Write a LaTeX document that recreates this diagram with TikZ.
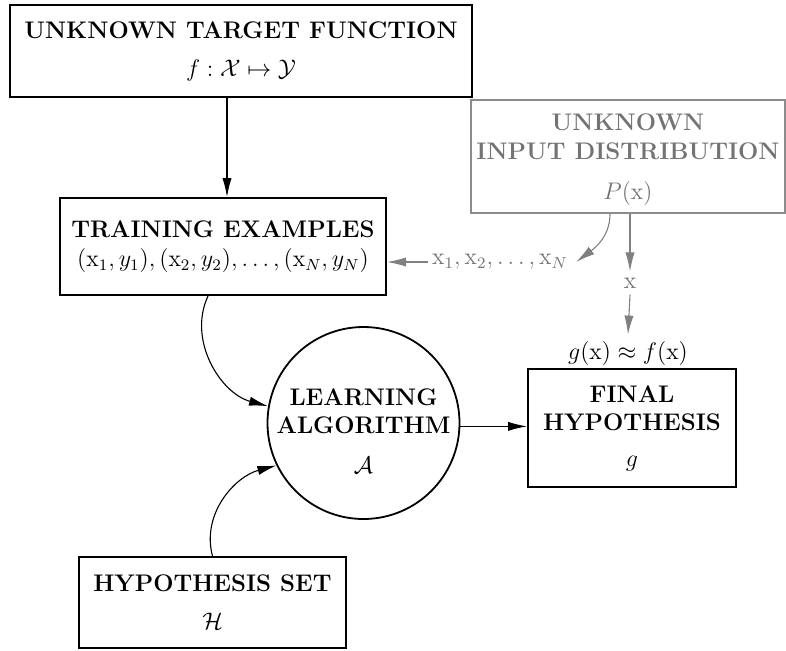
\documentclass[tikz,border=0pt]{standalone}
\usepackage{amsmath,amssymb}
\usetikzlibrary{arrows.meta}
\begin{document}
\begin{tikzpicture}[x=0.5pt,y=0.5pt,
  box/.style={draw, line width=1pt, rectangle, align=center, font=\large\bfseries, inner sep=0pt},
  graybox/.style={box, draw=black!45, text=black!55, line width=0.8pt},
  arr/.style={-{Latex[length=9.5pt,width=4.6pt]}, line width=0.55pt},
  garr/.style={arr, draw=black!50, color=black!50},
  lbl/.style={font=\large, inner sep=3pt}]
\useasboundingbox (0,0) rectangle (786,650);

\node[box, minimum width=231pt, minimum height=46pt] (target) at (241,599)
  {UNKNOWN TARGET FUNCTION\\[5pt] $f:\mathcal{X}\mapsto\mathcal{Y}$};
\node[box, minimum width=163pt, minimum height=48.5pt] (training) at (223,403.5)
  {TRAINING EXAMPLES\\[0.5pt] $(\mathrm{x}_1,y_1),(\mathrm{x}_2,y_2),\dots,(\mathrm{x}_N,y_N)$};
\node[graybox, minimum width=157pt, minimum height=56.5pt] (input) at (628,493.5)
  {\rule{0pt}{11pt}UNKNOWN\\[0.5pt]INPUT DISTRIBUTION\\[6pt]$P(\mathrm{x})$};
\node[circle, draw, line width=0.9pt, minimum size=96pt, align=center,
  font=\large\bfseries, inner sep=-6pt] (alg) at (363.5,227)
  {\rule{0pt}{16pt}LEARNING\\ALGORITHM\\[6pt]$\mathcal{A}$};
\node[box, minimum width=104pt, minimum height=59pt] (final) at (632,222)
  {FINAL\\HYPOTHESIS\\[4pt]$g$};
\node[box, minimum width=133.5pt, minimum height=45.5pt] (hypset) at (212.5,47.5)
  {HYPOTHESIS SET\\[5pt]$\mathcal{H}$};

\node[lbl, text=black!55, inner sep=2pt] (xs) at (500,388)
  {$\mathrm{x}_1,\mathrm{x}_2,\dots,\mathrm{x}_N$};
\node[lbl, text=black!55] (xl) at (630,367) {$\mathrm{x}$};
\node[lbl] (gf) at (628,297) {$g(\mathrm{x})\approx f(\mathrm{x})$};

\coordinate (ax) at (227,0);
\coordinate (c1) at (208,0);
\coordinate (c3) at (610,0);

\draw[arr] (ax |- target.south) -- (ax |- training.north);
\draw[arr] (c1 |- training.south) to[out=245, in=165] (alg.170);
\draw[arr] (hypset.north) to[out=105, in=195] (alg.206);
\draw[arr] (alg.-2.5) -- (alg.-2.5 -| final.west);

\draw[garr] (xs.west) -- (xs.west -| training.east);
\draw[garr] (c3 |- input.south) to[out=-90, in=37] ([xshift=2pt]xs.east);
\draw[garr] (xl |- input.south) -- (xl.north);
\draw[garr] (xl.south) -- (gf.north);
\end{tikzpicture}
\end{document}
